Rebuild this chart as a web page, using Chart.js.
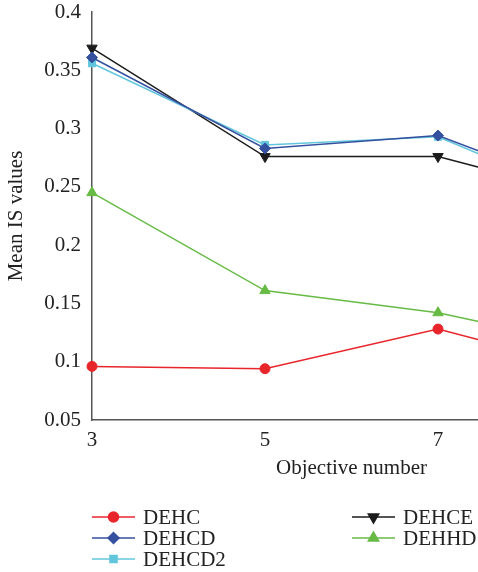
<!DOCTYPE html>
<html>
<head>
<meta charset="utf-8">
<script src="https://cdn.jsdelivr.net/npm/chart.js@4.4.1/dist/chart.umd.min.js"></script>
<style>
  html, body { margin: 0; padding: 0; background: #fff; overflow: hidden; }
  #wrap { width: 640px; height: 572px; }
</style>
</head>
<body>
<div id="wrap"><canvas id="chart" width="640" height="572"></canvas></div>
<script>
const objectives = [3, 5, 7, 9];
const xTicks = [3, 5, 7, 9];
const yTicks = [0.05, 0.1, 0.15, 0.2, 0.25, 0.3, 0.35, 0.4];

const dehc   = [0.096, 0.094, 0.128, 0.089];
const dehcd  = [0.361, 0.283, 0.294, 0.238];
const dehcd2 = [0.356, 0.286, 0.293, 0.231];
const dehce  = [0.369, 0.276, 0.276, 0.237];
const dehhd  = [0.245, 0.161, 0.142, 0.110];

const FONT = "'Liberation Serif', 'DejaVu Serif', serif";
const AXIS = '#555555';

function series(label, values, color, style, radius, rotation) {
  return {
    label: label,
    data: values.map((v, i) => ({ x: objectives[i], y: v })),
    borderColor: color,
    backgroundColor: color,
    borderWidth: 1.5,
    pointStyle: style,
    pointRadius: radius,
    pointHoverRadius: radius,
    pointRotation: rotation || 0,
    pointBorderWidth: 1,
    tension: 0,
    clip: false
  };
}

const datasets = [
  series('DEHC', dehc, '#e8252b', 'circle', 5),
  series('DEHCD', dehcd, '#34509f', 'rectRot', 5.5),
  series('DEHCD2', dehcd2, '#62c6dc', 'rect', 5),
  series('DEHCE', dehce, '#1b1b1b', 'triangle', 6, 180),
  series('DEHHD', dehhd, '#67bb45', 'triangle', 6)
];

// legend in two columns below the plot, filled top to bottom
const sideLegend = {
  id: 'sideLegend',
  afterDraw(chart) {
    const ctx = chart.ctx;
    const cols = [92, 352];
    const rows = [517, 538, 559];
    ctx.save();
    chart.data.datasets.forEach((ds, i) => {
      const x = cols[Math.floor(i / 3)];
      const y = rows[i % 3];
      ctx.strokeStyle = ds.borderColor;
      ctx.fillStyle = ds.backgroundColor;
      ctx.lineWidth = ds.borderWidth;
      ctx.beginPath();
      ctx.moveTo(x, y);
      ctx.lineTo(x + 43, y);
      ctx.stroke();
      Chart.helpers.drawPoint(ctx, {
        pointStyle: ds.pointStyle,
        radius: ds.pointRadius,
        rotation: ds.pointRotation,
        borderWidth: 1
      }, x + 21.5, y);
      ctx.fillStyle = '#222';
      ctx.font = '21px ' + FONT;
      ctx.textBaseline = 'middle';
      ctx.textAlign = 'left';
      ctx.fillText(ds.label, x + 51, y + 1);
    });
    ctx.restore();
  }
};

new Chart(document.getElementById('chart'), {
  type: 'line',
  data: { datasets: datasets },
  plugins: [sideLegend],
  options: {
    responsive: false,
    animation: false,
    layout: { padding: { top: 12, right: 29, bottom: 91, left: 0 } },
    plugins: { legend: { display: false }, tooltip: { enabled: false } },
    scales: {
      x: {
        type: 'linear',
        min: 3,
        max: 9,
        afterBuildTicks(scale) { scale.ticks = xTicks.map(v => ({ value: v })); },
        afterFit(scale) { scale.height = 61; },
        grid: { display: false, drawTicks: true, tickLength: 6, color: AXIS },
        border: { color: AXIS, width: 1.5 },
        ticks: { color: '#222', font: { family: FONT, size: 21 }, padding: 2, maxRotation: 0 },
        title: { display: true, text: 'Objective number', color: '#222', font: { family: FONT, size: 21 }, padding: 0 }
      },
      y: {
        min: 0.05,
        max: 0.4,
        afterBuildTicks(scale) { scale.ticks = yTicks.map(v => ({ value: v })); },
        afterFit(scale) { scale.width = 92; scale.paddingTop = 0; },
        grid: { display: false, drawTicks: true, tickLength: 6, color: AXIS },
        border: { color: AXIS, width: 1.5 },
        ticks: { color: '#222', font: { family: FONT, size: 21 }, padding: 5,
                 callback: v => String(Math.round(v * 100) / 100) },
        title: { display: true, text: 'Mean IS values', color: '#222', font: { family: FONT, size: 21 }, padding: { top: 4, bottom: 0 } }
      }
    }
  }
});
</script>
</body>
</html>
